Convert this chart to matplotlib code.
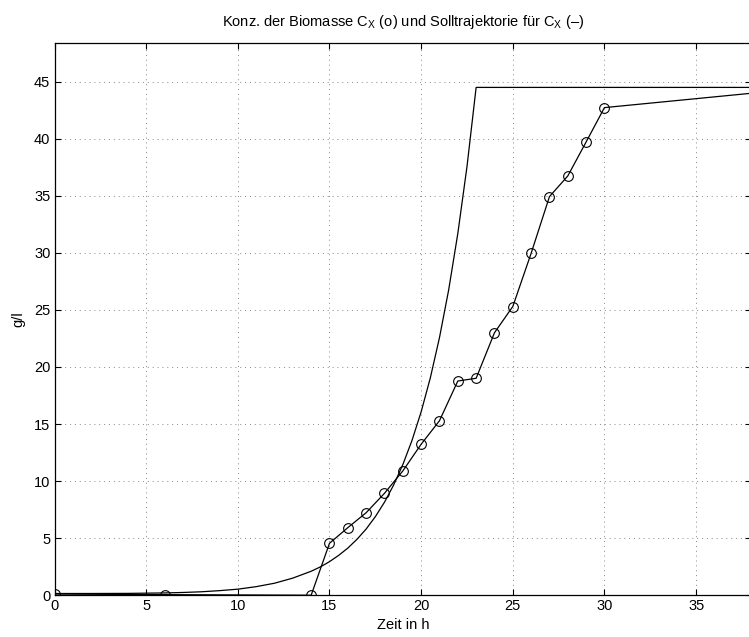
import numpy as np
import matplotlib
matplotlib.use("Agg")
import matplotlib.pyplot as plt

plt.rcParams['font.family'] = ['Liberation Sans', 'DejaVu Sans']
plt.rcParams['mathtext.fontset'] = 'custom'
plt.rcParams['mathtext.rm'] = 'Liberation Sans'

# measured biomass concentration (g/l) over time (h)
t_mess = [0, 6, 14, 15, 16, 17, 18, 19, 20, 21, 22, 23, 24, 25, 26, 27, 28, 29, 30, 40]
cx_mess = [0.1, 0.05, 0.0, 4.55, 5.92, 7.23, 8.93, 10.89, 13.23, 15.29, 18.77, 19.01,
           23.0, 25.3, 29.96, 34.93, 36.74, 39.72, 42.73, 44.3]

# set trajectory for C_X
t_soll = [0, 2, 4, 6, 7, 8, 9, 10, 11, 12, 13, 14, 14.5, 15, 15.5, 16, 16.5, 17, 17.5,
          18, 18.5, 19, 19.5, 20, 20.5, 21, 21.5, 22, 22.5, 23, 40]
cx_soll = [0.15, 0.15, 0.16, 0.2, 0.24, 0.3, 0.4, 0.53, 0.75, 1.05, 1.5, 2.1, 2.48, 2.94,
           3.49, 4.13, 4.9, 5.8, 6.88, 8.15, 9.66, 11.44, 13.56, 16.07, 19.04, 22.57,
           26.74, 31.69, 37.55, 44.5, 44.5]

xticks = [0, 5, 10, 15, 20, 25, 30, 35]
yticks = [0, 5, 10, 15, 20, 25, 30, 35, 40, 45]

fig = plt.figure(figsize=(7.49, 6.37), dpi=100)
ax = fig.add_axes([0.0728, 0.0656, 0.930, 0.8674])

ax.plot(t_soll, cx_soll, color='black', linewidth=0.9)
ax.plot(t_mess, cx_mess, color='black', linewidth=0.9, marker='o', markersize=7,
        markerfacecolor='none', markeredgewidth=0.8)

ax.set_xlim(0, 38)
ax.set_ylim(0, 48.42)
ax.set_xticks(xticks)
ax.set_yticks(yticks)
ax.tick_params(direction='in', length=4, width=0.8, top=True, right=True,
               labelsize=10.5, pad=3)
ax.grid(True, color='#888888', linestyle=(0, (1, 4)), linewidth=0.7)
for s in ax.spines.values():
    s.set_linewidth(0.9)

ax.set_xlabel('Zeit in h', fontsize=10.5, labelpad=3)
ax.set_ylabel('g/l', fontsize=10.5, labelpad=6)
ax.set_title('Konz. der Biomasse C$_{\\mathregular{X}}$ (o) und Solltrajektorie für '
             'C$_{\\mathregular{X}}$ (–)', fontsize=10.5, pad=12)

fig.savefig('out.png', dpi=100)
